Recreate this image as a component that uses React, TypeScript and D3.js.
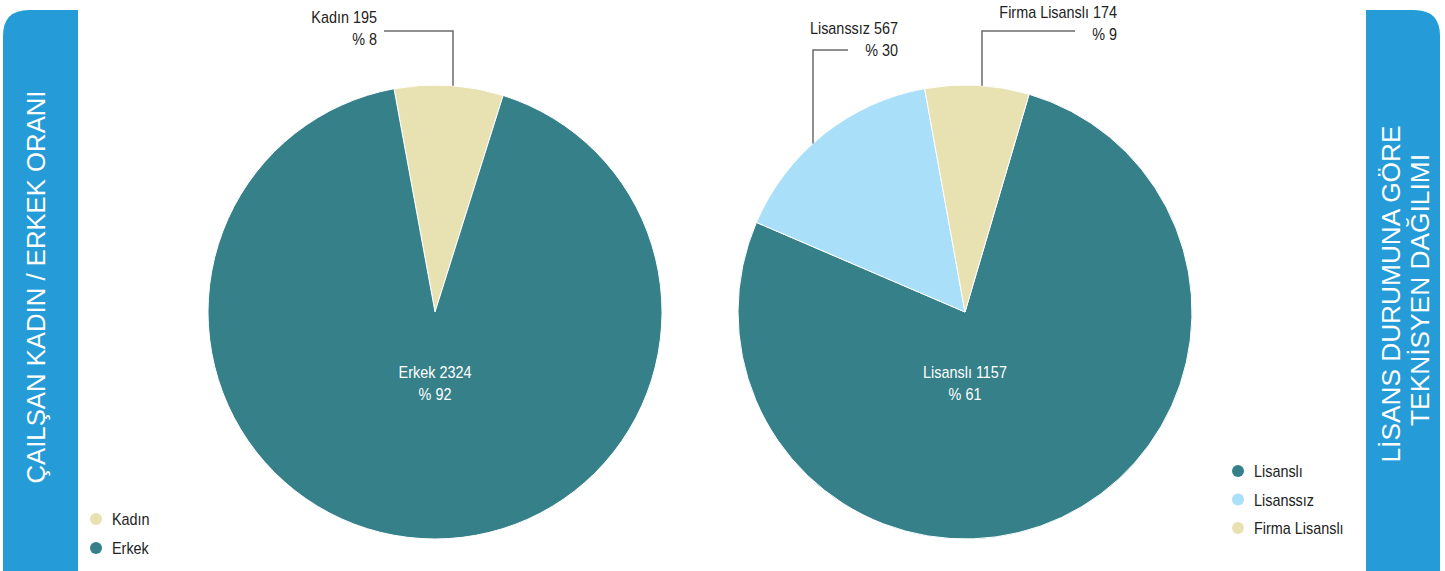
import React from "react";
import * as d3 from "d3";

// ---- data ----
const genderCategories = ["Kadın", "Erkek"];
const genderValues = [195, 2324];
const genderPercents = [8, 92];

const licenseCategories = ["Lisanslı", "Lisanssız", "Firma Lisanslı"];
const licenseValues = [1157, 567, 174];
const licensePercents = [61, 30, 9];
// slice sizes as drawn in the reference (share of the circle, %)
const licenseSliceShares = [76.9, 15.7, 7.4];

const leftTitle = ["ÇAILŞAN KADIN / ERKEK ORANI"];
const rightTitle = ["LİSANS DURUMUNA GÖRE", "TEKNİSYEN DAĞILIMI"];

// ---- styles ----
const W = 1445;
const H = 571;
const FONT = "'Liberation Sans', Arial, sans-serif";
const TEAL = "#36808A";
const BEIGE = "#E8E2B2";
const LIGHTBLUE = "#A9DFF8";
const BANNER = "#259BD8";
const genderColors = [BEIGE, TEAL];
const licenseColors = [TEAL, LIGHTBLUE, BEIGE];
const R = 227;
const deg = Math.PI / 180;
const FS = 16;
const SX = 0.9; // horizontal condensing of label text

function CText(props: { x: number; y: number; anchor: "start" | "middle" | "end"; fill: string; children: string }) {
  return (
    <g transform={`translate(${props.x},${props.y}) scale(${SX},1)`}>
      <text x={0} y={0} textAnchor={props.anchor} fill={props.fill} fontSize={FS} fontFamily={FONT}>
        {props.children}
      </text>
    </g>
  );
}

type OutLabel = { idx: number; textX: number; y1: number; y2: number; elbowY: number; endX: number; lineX: number };

function Pie(props: {
  cx: number; cy: number; values: number[]; colors: string[]; start: number;
  cats: string[]; counts: number[]; pcts: number[]; inside: number; outside: OutLabel[];
}) {
  const { cx, cy, values, colors, start, cats, counts, pcts, inside, outside } = props;
  const pie = d3.pie<number>().sort(null).value((d) => d).startAngle(start).endAngle(start + 2 * Math.PI);
  const arcs = pie(values);
  const arc = d3.arc<d3.PieArcDatum<number>>().innerRadius(0).outerRadius(R);
  return (
    <g>
      <g transform={`translate(${cx},${cy})`}>
        {arcs.map((a, i) => (
          <path key={i} d={arc(a) || ""} fill={colors[i]} stroke="#ffffff" strokeWidth={1} strokeLinejoin="round" />
        ))}
      </g>
      <CText x={cx} y={cy + 66} anchor="middle" fill="#ffffff">{`${cats[inside]} ${counts[inside]}`}</CText>
      <CText x={cx} y={cy + 88} anchor="middle" fill="#ffffff">{`% ${pcts[inside]}`}</CText>
      {outside.map((o) => {
        const px = o.lineX;
        const py = cy - Math.sqrt(R * R - (px - cx) * (px - cx));
        return (
          <g key={o.idx}>
            <path d={`M${px},${py}V${o.elbowY}H${o.endX}`} fill="none" stroke="#6b6b6b" strokeWidth={1.5} />
            <CText x={o.textX} y={o.y1} anchor="end" fill="#222">{`${cats[o.idx]} ${counts[o.idx]}`}</CText>
            <CText x={o.textX} y={o.y2} anchor="end" fill="#222">{`% ${pcts[o.idx]}`}</CText>
          </g>
        );
      })}
    </g>
  );
}

function Legend(props: { x: number; y: number; cats: string[]; colors: string[]; step: number }) {
  const { x, y, cats, colors, step } = props;
  return (
    <g>
      {cats.map((c, i) => (
        <g key={c}>
          <circle cx={x} cy={y + i * step} r={6} fill={colors[i]} />
          <CText x={x + 16} y={y + i * step + 6} anchor="start" fill="#222">{c}</CText>
        </g>
      ))}
    </g>
  );
}

export default function App() {
  const rr = 26;
  const lx0 = 3, lx1 = 78, ty = 10, by = 575;
  const leftPath = `M${lx0},${by}V${ty + rr}Q${lx0},${ty} ${lx0 + rr},${ty}H${lx1}V${by}Z`;
  const rx0 = 1366, rx1 = 1440;
  const rightPath = `M${rx0},${by}V${ty}H${rx1 - rr}Q${rx1},${ty} ${rx1},${ty + rr}V${by}Z`;

  return (
    <svg width={W} height={H} style={{ position: "absolute", left: 0, top: 0, background: "#fff" }}>
      <path d={leftPath} fill={BANNER} />
      <path d={rightPath} fill={BANNER} />
      <text
        transform={`translate(45,287) rotate(-90)`}
        textAnchor="middle"
        fill="#ffffff"
        fontSize={26}
        fontFamily={FONT}
        textLength={393}
        lengthAdjust="spacingAndGlyphs"
      >
        {leftTitle[0]}
      </text>
      <text
        transform={`translate(1400,294) rotate(-90)`}
        textAnchor="middle"
        fill="#ffffff"
        fontSize={26}
        fontFamily={FONT}
        textLength={337}
        lengthAdjust="spacingAndGlyphs"
      >
        {rightTitle[0]}
      </text>
      <text
        transform={`translate(1429,290) rotate(-90)`}
        textAnchor="middle"
        fill="#ffffff"
        fontSize={26}
        fontFamily={FONT}
        textLength={272}
        lengthAdjust="spacingAndGlyphs"
      >
        {rightTitle[1]}
      </text>

      <Pie
        cx={435}
        cy={312}
        values={genderValues}
        colors={genderColors}
        start={-10.4 * deg}
        cats={genderCategories}
        counts={genderValues}
        pcts={genderPercents}
        inside={1}
        outside={[{ idx: 0, textX: 377, y1: 23, y2: 45, elbowY: 31, endX: 384, lineX: 453 }]}
      />
      <Pie
        cx={965}
        cy={312}
        values={licenseSliceShares}
        colors={licenseColors}
        start={16.4 * deg}
        cats={licenseCategories}
        counts={licenseValues}
        pcts={licensePercents}
        inside={0}
        outside={[
          { idx: 2, textX: 1117, y1: 18, y2: 40, elbowY: 31, endX: 1075, lineX: 982 },
          { idx: 1, textX: 898, y1: 34, y2: 56, elbowY: 50, endX: 848, lineX: 813 },
        ]}
      />
      <Legend x={96} y={519} cats={genderCategories} colors={genderColors} step={29} />
      <Legend x={1238} y={471} cats={licenseCategories} colors={licenseColors} step={28.5} />
    </svg>
  );
}
